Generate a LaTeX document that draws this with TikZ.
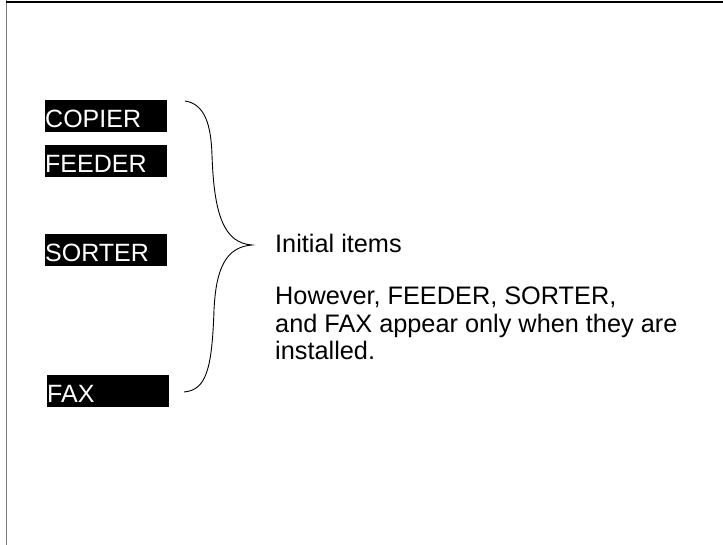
\documentclass[tikz,border=0pt]{standalone}
\usepackage{fontspec}
\setmainfont{Liberation Sans}
\usetikzlibrary{positioning}
\definecolor{PanelBlack}{HTML}{000000}
\definecolor{PanelWhite}{HTML}{ffffff}
\definecolor{PanelGray}{HTML}{7a7a7a}
\tikzset{
    % Menu item (white text on black bar)
    itemnode/.style={
        fill=PanelBlack,
        text=PanelWhite,
        inner sep=0pt,
        minimum width=122pt,
        minimum height=32pt,
        text width=122pt,
        text height=22pt,
        text depth=0pt,
        align=left,
        anchor=north west,
        font=\fontsize{25}{30}\selectfont
    },
    % Explanation text
    notenode/.style={
        inner sep=0pt,
        align=left,
        anchor=north west,
        font=\fontsize{25.3}{27.5}\selectfont
    },
    % Curly brace
    braceline/.style={
        line width=0.9pt,
        draw=PanelBlack
    },
    % Page frame
    frameleft/.style={
        line width=1.5pt,
        draw=PanelGray
    },
    frametop/.style={
        line width=1.2pt,
        draw=PanelBlack
    }
}
\begin{document}
\begin{tikzpicture}[x=1pt,y=-1pt]
    \useasboundingbox (0,0) rectangle (723,545);
    % frame
    \draw[frameleft] (6.5,0) -- (6.5,545);
    \draw[frametop] (6,2) -- (723,2);
    % items
    \node[itemnode] (copier) at (45,100) {COPIER};
    \node[itemnode] (feeder) at (45,145) {FEEDER};
    \node[itemnode] (sorter) at (45,234) {SORTER};
    \node[itemnode] (fax) at (47,375) {FAX};
    % brace
    \coordinate (bracetop) at (185,101);
    \coordinate (bracetip) at (252,245);
    \coordinate (bracebot) at (184,392);
    \draw[braceline] (bracetop) .. controls (205,104) and (211,125) .. (212,155)
        .. controls (214,215) and (224,243) .. (bracetip)
        .. controls (226,247) and (216,268) .. (214,310)
        .. controls (212,370) and (206,390) .. (bracebot);
    % text
    \node[notenode] (note) at (275,234) {Initial items\\[24.5pt]However, FEEDER, SORTER,\\and FAX appear only when they are\\installed.};
\end{tikzpicture}
\end{document}
